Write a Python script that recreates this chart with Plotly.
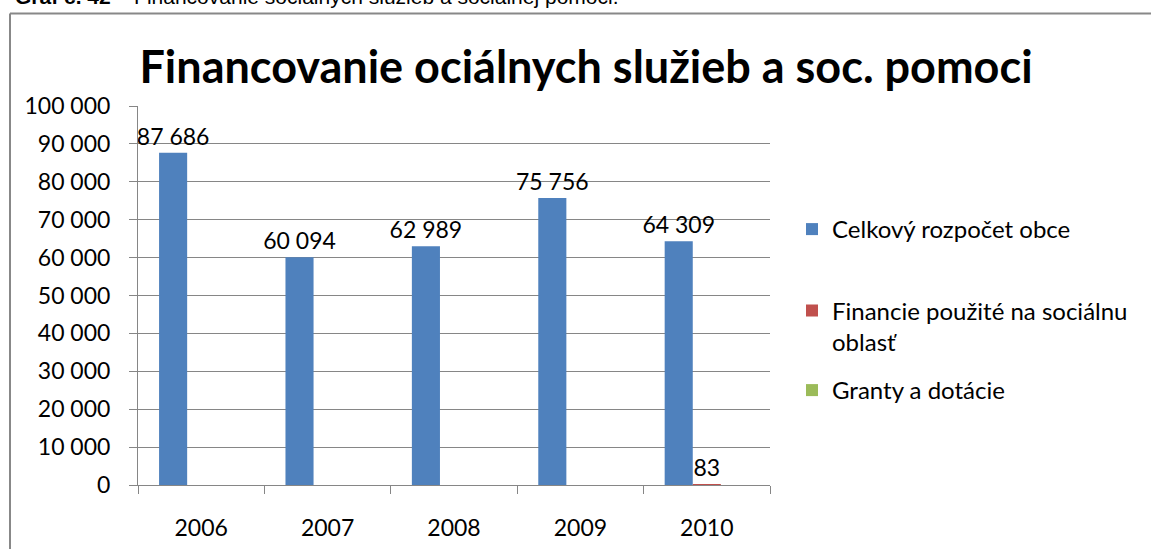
import plotly.graph_objects as go

# ---- data ----
years = ["2006", "2007", "2008", "2009", "2010"]
series_names = ["Celkový rozpočet obce",
                "Financie použité na sociálnu<br>oblasť",
                "Granty a dotácie"]
celkovy = [87686, 60094, 62989, 75756, 64309]
financie = [None, None, None, None, 83]
granty = [None, None, None, None, None]
y_ticks = [0, 10000, 20000, 30000, 40000, 50000, 60000, 70000, 80000, 90000, 100000]
chart_title = "Financovanie ociálnych služieb a soc. pomoci"
caption_bold = "Graf č. 42"
caption_rest = " – Financovanie sociálnych služieb a sociálnej pomoci."

colors = ["#4F81BD", "#C0504D", "#9BBB59"]

W, H = 1151, 549
L, R, T, B = 138, 770, 106, 485  # plot area in pixels


def px(xp):
    return (xp - L) / (R - L)


def py(yp):
    return (B - yp) / (B - T)


FONT = "Lato"
FS = 23
fig = go.Figure()
for i, (name, vals) in enumerate(zip(series_names, [celkovy, financie, granty])):
    fig.add_trace(go.Bar(
        x=years, y=vals, name=name,
        marker=dict(color=colors[i], line=dict(width=0)),
        texttemplate="%{y:,}", textposition="outside", constraintext="none",
        textfont=dict(family=FONT, size=FS, color="#000000"),
        cliponaxis=False, showlegend=True,
        legend=["legend", "legend2", "legend3"][i],
    ))

legend_common = dict(font=dict(family=FONT, size=24, color="#000000"),
                     bgcolor="rgba(0,0,0,0)", xanchor="left", yanchor="middle",
                     valign="top", itemclick=False, visible=True)

fig.update_layout(
    width=W, height=H,
    margin=dict(l=L, r=W - R, t=T, b=H - B, pad=0, autoexpand=False),
    paper_bgcolor="white", plot_bgcolor="white",
    separators=", ",
    showlegend=True,
    barmode="group", bargap=1 / 3, bargroupgap=0,
    font=dict(family=FONT, size=FS, color="#000000"),
    title=dict(text="<b>" + chart_title + "</b>", x=px(586), xref="paper",
               xanchor="center", y=1 - 67 / H, yanchor="middle",
               font=dict(family=FONT, size=45, color="#000000")),
    xaxis=dict(type="category", tickson="boundaries", ticks="outside", ticklen=8,
               tickcolor="#868686", showline=True, linecolor="#868686", linewidth=1,
               showgrid=False, ticklabelstandoff=22, automargin=False,
               tickfont=dict(family=FONT, size=FS)),
    yaxis=dict(range=[0, 100000], tickvals=y_ticks, tickformat=",", ticks="outside",
               ticklen=8, tickcolor="#868686", showline=True, linecolor="#868686",
               linewidth=1, gridcolor="#868686", gridwidth=1, zeroline=False,
               ticklabelstandoff=14, automargin=False,
               tickfont=dict(family=FONT, size=FS)),
    legend=dict(x=px(792), y=py(229.5), **legend_common),
    legend2=dict(x=px(792), y=py(288.5), **{**legend_common, "yanchor": "top"}),
    legend3=dict(x=px(792), y=py(390.5), **legend_common),
    shapes=[
        dict(type="line", xref="paper", yref="paper", x0=px(10), x1=px(1160),
             y0=py(13.5), y1=py(13.5), line=dict(color="#888888", width=2)),
        dict(type="line", xref="paper", yref="paper", x0=px(10), x1=px(10),
             y0=py(13.5), y1=py(560), line=dict(color="#888888", width=2)),
    ],
    annotations=[
        dict(text="<b>" + caption_bold + "</b>" + caption_rest, xref="paper", yref="paper",
             x=px(13), y=py(10), xanchor="left", yanchor="bottom", showarrow=False,
             font=dict(family="Liberation Sans", size=21, color="#000000")),
    ],
)

fig.write_html("out.html", config={"displayModeBar": False},
               post_script="document.body.style.margin='0px';document.body.style.padding='0px';")
